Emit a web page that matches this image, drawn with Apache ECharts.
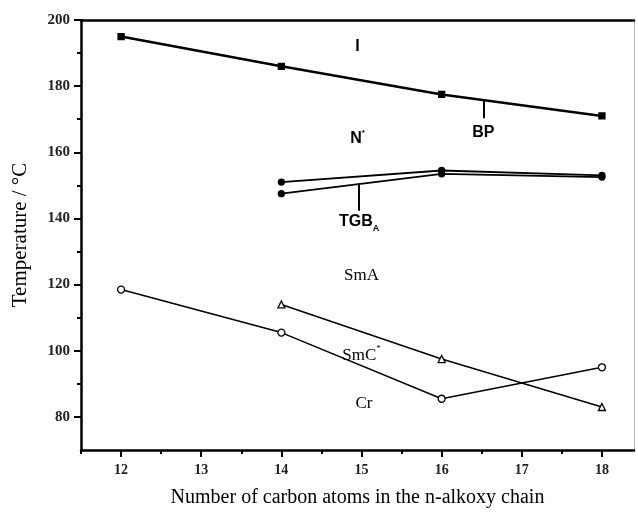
<!DOCTYPE html>
<html>
<head>
<meta charset="utf-8">
<script src="https://cdn.jsdelivr.net/npm/echarts@6/dist/echarts.min.js"></script>
<style>
  html, body { margin: 0; padding: 0; background: #fff; }
  #main { width: 638px; height: 516px; }
</style>
</head>
<body>
<div id="main"></div>
<script>
// phase transition temperatures vs carbon number
var xMajor = [12, 13, 14, 15, 16, 17, 18];
var xMinor = [11.5, 12.5, 13.5, 14.5, 15.5, 16.5, 17.5];
var yMajor = [80, 100, 120, 140, 160, 180, 200];
var yMinor = [90, 110, 130, 150, 170, 190];

var isoLine = [[12, 195], [14, 186], [16, 177.5], [18, 171]];      // I -> N*
var nLine = [[14, 151], [16, 154.5], [18, 153]];                    // N* -> TGBA
var tgbLine = [[14, 147.5], [16, 153.5], [18, 152.5]];              // TGBA -> SmA
var smaLine = [[14, 114], [16, 97.5], [18, 83]];                    // SmA -> SmC*
var crLine = [[12, 118.5], [14, 105.5], [16, 85.5], [18, 95]];      // melting

// phase labels [x, y, text]
var phaseLabels = [
  [14.95, 192, '{b|I}'],
  [14.95, 164, '{b|N}{sup|*}'],
  [16.52, 166, '{b|BP}'],
  [14.97, 139, '{b|TGB}{sub|A}'],
  [15.0, 122.8, '{s|SmA}'],
  [15.0, 98.7, '{s|SmC}{sup2|*}'],
  [15.03, 84, '{s|Cr}']
];
// pointer lines [x, y1, y2]
var pointers = [
  [16.52, 176, 170.3],
  [14.97, 150.6, 142.3]
];

var chart = echarts.init(document.getElementById('main'));

var serif = 'Liberation Serif';
var ink = '#000';

function lineSeries(data, symbol, size, fill, width) {
  return {
    type: 'line',
    data: data,
    symbol: symbol,
    symbolSize: size,
    lineStyle: { color: ink, width: width },
    itemStyle: { color: fill, borderColor: ink, borderWidth: 1.3 },
    z: 3,
    animation: false
  };
}

var option = {
  animation: false,
  grid: { left: 81, top: 20, right: 4, bottom: 66 },
  xAxis: [
    {
      type: 'value', position: 'bottom', min: 11.5, max: 18.4,
      name: 'Number of carbon atoms in the n-alkoxy chain',
      nameLocation: 'middle', nameGap: 38,
      nameTextStyle: { fontFamily: serif, fontSize: 20, color: ink },
      axisLine: { lineStyle: { color: ink, width: 2.5 } },
      axisTick: { customValues: xMajor, length: 7, lineStyle: { color: ink, width: 2 } },
      axisLabel: { customValues: xMajor, fontFamily: serif, fontWeight: 'bold', fontSize: 14, color: '#222', margin: 13 },
      splitLine: { show: false }
    },
    {
      type: 'value', position: 'bottom', min: 11.5, max: 18.4,
      axisLine: { show: false },
      axisTick: { customValues: xMinor, length: 4, lineStyle: { color: ink, width: 2 } },
      axisLabel: { show: false },
      splitLine: { show: false }
    },
    {
      type: 'value', position: 'top', min: 11.5, max: 18.4,
      axisLine: { lineStyle: { color: ink, width: 2.5 } },
      axisTick: { show: false }, axisLabel: { show: false }, splitLine: { show: false }
    }
  ],
  yAxis: [
    {
      type: 'value', position: 'left', min: 70, max: 200,
      name: 'Temperature / °C',
      nameLocation: 'middle', nameGap: 50,
      nameTextStyle: { fontFamily: serif, fontSize: 21, color: ink },
      axisLine: { lineStyle: { color: ink, width: 2.5 } },
      axisTick: { customValues: yMajor, length: 7, lineStyle: { color: ink, width: 2 } },
      axisLabel: { customValues: yMajor, fontFamily: serif, fontWeight: 'bold', fontSize: 15, color: '#222', margin: 11 },
      splitLine: { show: false }
    },
    {
      type: 'value', position: 'left', min: 70, max: 200,
      axisLine: { show: false },
      axisTick: { customValues: yMinor, length: 4, lineStyle: { color: ink, width: 2 } },
      axisLabel: { show: false },
      splitLine: { show: false }
    },
    {
      type: 'value', position: 'right', min: 70, max: 200,
      axisLine: { lineStyle: { color: '#bbb', width: 1 } },
      axisTick: { show: false }, axisLabel: { show: false }, splitLine: { show: false }
    }
  ],
  series: [
    lineSeries(isoLine, 'rect', 6, ink, 2.6),
    lineSeries(nLine, 'circle', 6, ink, 1.8),
    lineSeries(tgbLine, 'circle', 6, ink, 1.8),
    lineSeries(smaLine, 'triangle', 7, '#fff', 1.5),
    lineSeries(crLine, 'circle', 7, '#fff', 1.5),
    {
      type: 'scatter',
      data: phaseLabels.map(function (p) { return { value: [p[0], p[1]], name: p[2] }; }),
      symbolSize: 0,
      silent: true,
      z: 5,
      itemStyle: { color: ink, opacity: 1 },
      label: {
        show: true,
        position: 'inside',
        color: ink,
        textBorderWidth: 0,
        formatter: function (p) { return p.name; },
        rich: {
          b: { fontFamily: 'Liberation Sans', fontWeight: 'bold', fontSize: 16, color: ink, textBorderWidth: 0 },
          s: { fontFamily: serif, fontSize: 17, color: ink, textBorderWidth: 0 },
          sup: { fontFamily: 'Liberation Sans', fontWeight: 'bold', fontSize: 8, color: ink, textBorderWidth: 0, padding: [0, 0, 12, 0] },
          sup2: { fontFamily: serif, fontSize: 9, color: ink, textBorderWidth: 0, padding: [0, 0, 13, 0] },
          sub: { fontFamily: 'Liberation Sans', fontWeight: 'bold', fontSize: 9, color: ink, textBorderWidth: 0, padding: [13, 0, 0, 0] }
        }
      }
    },
    {
      type: 'line',
      data: [],
      markLine: {
        silent: true,
        symbol: 'none',
        label: { show: false },
        lineStyle: { color: ink, width: 2, type: 'solid' },
        data: pointers.map(function (p) { return [{ coord: [p[0], p[1]] }, { coord: [p[0], p[2]] }]; })
      }
    }
  ]
};

chart.setOption(option);
</script>
</body>
</html>
